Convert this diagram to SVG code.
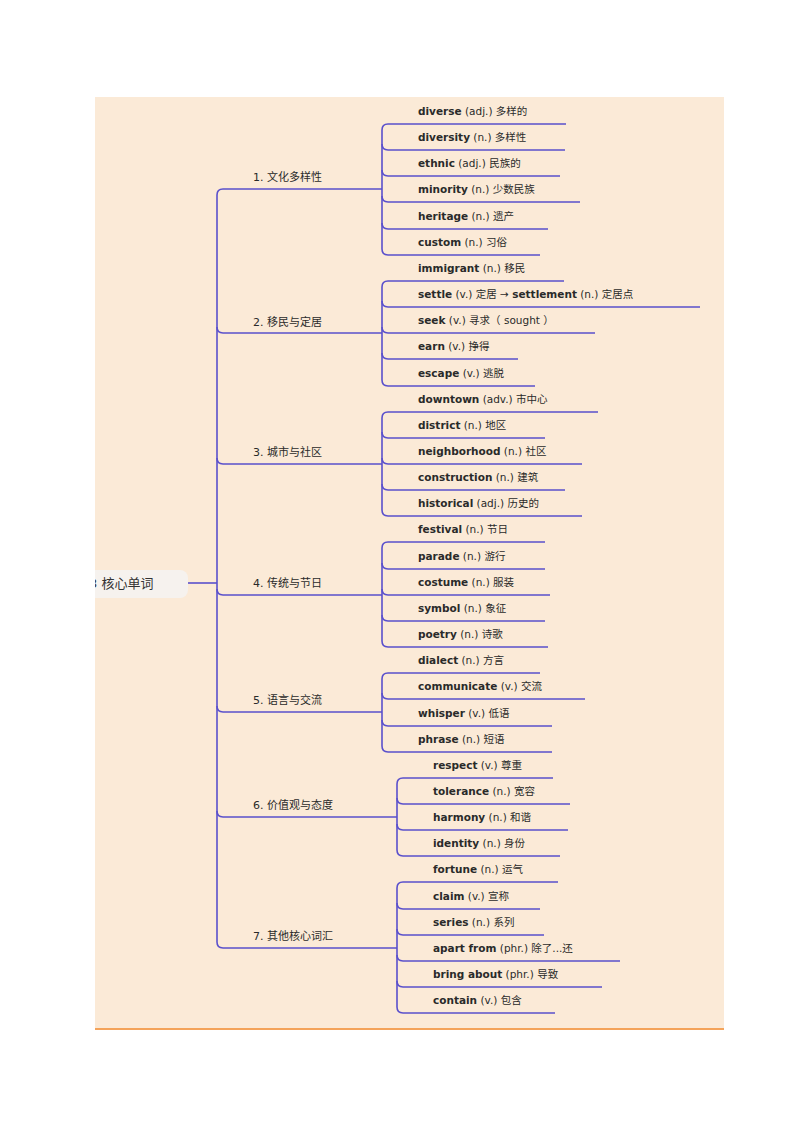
<svg xmlns="http://www.w3.org/2000/svg" width="800" height="1132" viewBox="0 0 800 1132">
<style>
.ln{fill:none;stroke:#5a50cc;stroke-width:1.6}
.t{font-family:"DejaVu Sans","Noto Sans CJK SC",sans-serif;font-size:10.5px;fill:#2a2a2a}
.b{font-weight:bold}
.lb{font-family:"DejaVu Sans","Noto Sans CJK SC",sans-serif;font-size:11px;fill:#2a2a2a}
</style>
<defs><clipPath id="c"><rect x="95" y="97" width="629" height="932"/></clipPath></defs>
<rect width="800" height="1132" fill="#fff"/>
<rect x="95" y="97" width="629" height="932" fill="#fbead7"/>
<line x1="95" y1="1029" x2="724" y2="1029" stroke="#f4a35a" stroke-width="2"/>
<g id="root" clip-path="url(#c)">
<rect x="70" y="570" width="118" height="28" rx="8" fill="#f6f2ee"/>
<text x="89" y="588" font-family="DejaVu Sans,Noto Sans CJK SC,sans-serif" font-size="13" fill="#333">3 核心单词</text>
</g>
<g id="connectors" class="ln">
<path class="ln" d="M188,583H217"/>
<path class="ln" d="M217,195V942"/>
<path class="ln" d="M217,195Q217,189 223,189H382"/>
<path class="ln" d="M217,327Q217,333 223,333H382"/>
<path class="ln" d="M217,458Q217,464 223,464H382"/>
<path class="ln" d="M217,589Q217,595 223,595H382"/>
<path class="ln" d="M217,706Q217,712 223,712H382"/>
<path class="ln" d="M217,811Q217,817 223,817H397"/>
<path class="ln" d="M217,942Q217,948 223,948H397"/>
<path class="ln" d="M382,130V249M382,287V380M382,418V510M382,548V641M382,679V746M397,784V850M397,888V1007"/>
<path class="ln" d="M382,130Q382,124 388,124H566M382,144Q382,150 388,150H565M382,170Q382,176 388,176H560M382,196Q382,202 388,202H580M382,223Q382,229 388,229H548M382,249Q382,255 388,255H540"/>
<path class="ln" d="M382,287Q382,281 388,281H564M382,301Q382,307 388,307H700M382,327Q382,333 388,333H595M382,353Q382,359 388,359H518M382,380Q382,386 388,386H535"/>
<path class="ln" d="M382,418Q382,412 388,412H598M382,432Q382,438 388,438H545M382,458Q382,464 388,464H582M382,484Q382,490 388,490H565M382,510Q382,516 388,516H582"/>
<path class="ln" d="M382,548Q382,542 388,542H545M382,563Q382,569 388,569H545M382,589Q382,595 388,595H550M382,615Q382,621 388,621H545M382,641Q382,647 388,647H548"/>
<path class="ln" d="M382,679Q382,673 388,673H540M382,693Q382,699 388,699H585M382,720Q382,726 388,726H552M382,746Q382,752 388,752H552"/>
<path class="ln" d="M397,784Q397,778 403,778H553M397,798Q397,804 403,804H570M397,824Q397,830 403,830H568M397,850Q397,856 403,856H560"/>
<path class="ln" d="M397,888Q397,882 403,882H558M397,903Q397,909 403,909H540M397,929Q397,935 403,935H544M397,955Q397,961 403,961H620M397,981Q397,987 403,987H602M397,1007Q397,1013 403,1013H555"/>
</g>
<g id="branches" class="lb">
<text x="253" y="181">1. 文化多样性</text>
<text x="253" y="326">2. 移民与定居</text>
<text x="253" y="456">3. 城市与社区</text>
<text x="253" y="587">4. 传统与节日</text>
<text x="253" y="704">5. 语言与交流</text>
<text x="253" y="809">6. 价值观与态度</text>
<text x="253" y="940">7. 其他核心词汇</text>
</g>
<g id="leaves" class="t">
<text x="418" y="115"><tspan class="b">diverse</tspan> (adj.) 多样的</text>
<text x="418" y="141"><tspan class="b">diversity</tspan> (n.) 多样性</text>
<text x="418" y="167"><tspan class="b">ethnic</tspan> (adj.) 民族的</text>
<text x="418" y="193"><tspan class="b">minority</tspan> (n.) 少数民族</text>
<text x="418" y="220"><tspan class="b">heritage</tspan> (n.) 遗产</text>
<text x="418" y="246"><tspan class="b">custom</tspan> (n.) 习俗</text>
<text x="418" y="272"><tspan class="b">immigrant</tspan> (n.) 移民</text>
<text x="418" y="298"><tspan class="b">settle</tspan> (v.) 定居 → <tspan class="b">settlement</tspan> (n.) 定居点</text>
<text x="418" y="324"><tspan class="b">seek</tspan> (v.) 寻求（ sought ）</text>
<text x="418" y="350"><tspan class="b">earn</tspan> (v.) 挣得</text>
<text x="418" y="377"><tspan class="b">escape</tspan> (v.) 逃脱</text>
<text x="418" y="403"><tspan class="b">downtown</tspan> (adv.) 市中心</text>
<text x="418" y="429"><tspan class="b">district</tspan> (n.) 地区</text>
<text x="418" y="455"><tspan class="b">neighborhood</tspan> (n.) 社区</text>
<text x="418" y="481"><tspan class="b">construction</tspan> (n.) 建筑</text>
<text x="418" y="507"><tspan class="b">historical</tspan> (adj.) 历史的</text>
<text x="418" y="533"><tspan class="b">festival</tspan> (n.) 节日</text>
<text x="418" y="560"><tspan class="b">parade</tspan> (n.) 游行</text>
<text x="418" y="586"><tspan class="b">costume</tspan> (n.) 服装</text>
<text x="418" y="612"><tspan class="b">symbol</tspan> (n.) 象征</text>
<text x="418" y="638"><tspan class="b">poetry</tspan> (n.) 诗歌</text>
<text x="418" y="664"><tspan class="b">dialect</tspan> (n.) 方言</text>
<text x="418" y="690"><tspan class="b">communicate</tspan> (v.) 交流</text>
<text x="418" y="717"><tspan class="b">whisper</tspan> (v.) 低语</text>
<text x="418" y="743"><tspan class="b">phrase</tspan> (n.) 短语</text>
<text x="433" y="769"><tspan class="b">respect</tspan> (v.) 尊重</text>
<text x="433" y="795"><tspan class="b">tolerance</tspan> (n.) 宽容</text>
<text x="433" y="821"><tspan class="b">harmony</tspan> (n.) 和谐</text>
<text x="433" y="847"><tspan class="b">identity</tspan> (n.) 身份</text>
<text x="433" y="873"><tspan class="b">fortune</tspan> (n.) 运气</text>
<text x="433" y="900"><tspan class="b">claim</tspan> (v.) 宣称</text>
<text x="433" y="926"><tspan class="b">series</tspan> (n.) 系列</text>
<text x="433" y="952"><tspan class="b">apart from</tspan> (phr.) 除了...还</text>
<text x="433" y="978"><tspan class="b">bring about</tspan> (phr.) 导致</text>
<text x="433" y="1004"><tspan class="b">contain</tspan> (v.) 包含</text>
</g>
</svg>
